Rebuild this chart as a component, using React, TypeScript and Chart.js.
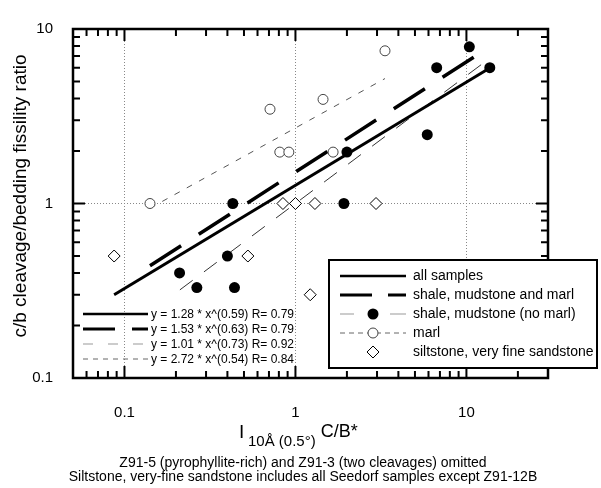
import React, { useEffect, useRef } from 'react';
import { Chart, registerables } from 'chart.js';

Chart.register(...registerables);

// ---- axis ticks ----
const xTickValues = [0.05, 0.06, 0.07, 0.08, 0.09, 0.1, 0.2, 0.3, 0.4, 0.5, 0.6, 0.7, 0.8, 0.9, 1, 2, 3, 4, 5, 6, 7, 8, 9, 10, 20, 30];
const yTickValues = [0.1, 0.2, 0.3, 0.4, 0.5, 0.6, 0.7, 0.8, 0.9, 1, 2, 3, 4, 5, 6, 7, 8, 9, 10];
const majorValues = [0.1, 1, 10];
const majorLabels = ['0.1', '1', '10'];

// ---- data: shale, mudstone (no marl) ----
const shaleX = [0.21, 0.265, 0.40, 0.44, 0.43, 1.92, 2.0, 5.9, 6.7, 10.4, 13.7];
const shaleY = [0.40, 0.33, 0.50, 0.33, 1.0, 1.0, 1.97, 2.48, 6.0, 7.9, 6.0];
// ---- marl ----
const marlX = [0.141, 0.71, 0.81, 0.915, 1.45, 1.66, 3.34];
const marlY = [1.0, 3.47, 1.97, 1.97, 3.95, 1.97, 7.5];
// ---- siltstone, very fine sandstone ----
const siltX = [0.087, 0.527, 0.845, 1.0, 1.3, 2.96, 1.22];
const siltY = [0.5, 0.5, 1.0, 1.0, 1.0, 1.0, 0.30];
// ---- fitted lines (end points) ----
const allFitX = [0.087, 13.7];
const allFitY = [0.30, 5.98];
const smmFitX = [0.141, 13.7];
const smmFitY = [0.44, 7.9];
const smFitX = [0.211, 13.7];
const smFitY = [0.32, 6.8];
const marlFitX = [0.141, 3.34];
const marlFitY = [0.94, 5.2];

// ---- texts ----
const legendLabels = ['all samples', 'shale, mudstone and marl', 'shale, mudstone (no marl)', 'marl', 'siltstone, very fine sandstone'];
const equationLabels = [
  'y = 1.28 * x^(0.59) R= 0.79',
  'y = 1.53 * x^(0.63) R= 0.79',
  'y = 1.01 * x^(0.73) R= 0.92',
  'y = 2.72 * x^(0.54) R= 0.84',
];
const yTitle = 'c/b cleavage/bedding fissility ratio';
const xTitleMain = 'I';
const xTitleSub = '10Å (0.5°)';
const xTitleRest = 'C/B*';
const footnotes = [
  'Z91-5 (pyrophyllite-rich) and Z91-3 (two cleavages) omitted',
  'Siltstone, very-fine sandstone includes all Seedorf samples except Z91-12B',
];

const FONT = '"Liberation Sans", Arial, Helvetica, sans-serif';

const zip = (xs: number[], ys: number[]) => xs.map((x, i) => ({ x, y: ys[i] }));
const isMajor = (v: number) => majorValues.some((m) => Math.abs(m - v) < 1e-9);
const labelFor = (v: number) => {
  const i = majorValues.findIndex((m) => Math.abs(m - v) < 1e-9);
  return i >= 0 ? majorLabels[i] : '';
};

const decorPlugin = {
  id: 'decor',
  afterDraw(chart: any) {
    const { ctx, chartArea } = chart;
    const { left, right, top, bottom } = chartArea;
    const xs = chart.scales.x;
    const ys = chart.scales.y;
    ctx.save();
    // inside tick marks
    ctx.strokeStyle = '#000';
    ctx.lineWidth = 2;
    xTickValues.forEach((v) => {
      const px = xs.getPixelForValue(v);
      const len = isMajor(v) ? 12 : 7;
      ctx.beginPath();
      ctx.moveTo(px, bottom);
      ctx.lineTo(px, bottom - len);
      ctx.moveTo(px, top);
      ctx.lineTo(px, top + len);
      ctx.stroke();
    });
    yTickValues.forEach((v) => {
      const py = ys.getPixelForValue(v);
      const len = isMajor(v) ? 12 : 7;
      ctx.beginPath();
      ctx.moveTo(left, py);
      ctx.lineTo(left + len, py);
      ctx.moveTo(right, py);
      ctx.lineTo(right - len, py);
      ctx.stroke();
    });
    // frame
    ctx.lineWidth = 2.5;
    ctx.strokeRect(left, top, right - left, bottom - top);

    // equation legend (bottom-left inside plot)
    const eqY = [314, 329, 344, 359];
    const eqStyles = [
      { w: 2.5, dash: [] as number[], color: '#000' },
      { w: 3, dash: [32, 17], color: '#000' },
      { w: 1, dash: [10, 15], color: '#999' },
      { w: 1, dash: [5, 5], color: '#666' },
    ];
    ctx.font = '12px ' + FONT;
    ctx.textBaseline = 'middle';
    ctx.textAlign = 'left';
    equationLabels.forEach((t, i) => {
      const s = eqStyles[i];
      ctx.beginPath();
      ctx.lineWidth = s.w;
      ctx.strokeStyle = s.color;
      ctx.setLineDash(s.dash);
      ctx.moveTo(83, eqY[i]);
      ctx.lineTo(148, eqY[i]);
      ctx.stroke();
      ctx.setLineDash([]);
      ctx.fillStyle = '#000';
      ctx.fillText(t, 151, eqY[i] + 0.5);
    });

    // right legend box
    ctx.fillStyle = '#fff';
    ctx.fillRect(329, 260, 268, 108);
    ctx.strokeStyle = '#000';
    ctx.lineWidth = 2;
    ctx.strokeRect(329, 260, 268, 108);
    const lgY = [276, 295, 314, 333, 352];
    // row 0 solid
    ctx.beginPath();
    ctx.lineWidth = 2.5;
    ctx.moveTo(340, lgY[0]);
    ctx.lineTo(406, lgY[0]);
    ctx.stroke();
    // row 1 long dash
    ctx.beginPath();
    ctx.lineWidth = 3;
    ctx.setLineDash([32, 16]);
    ctx.moveTo(340, lgY[1]);
    ctx.lineTo(406, lgY[1]);
    ctx.stroke();
    ctx.setLineDash([]);
    // row 2 thin gray + filled circle
    ctx.beginPath();
    ctx.lineWidth = 1;
    ctx.strokeStyle = '#999';
    ctx.moveTo(340, lgY[2]);
    ctx.lineTo(354, lgY[2]);
    ctx.moveTo(390, lgY[2]);
    ctx.lineTo(406, lgY[2]);
    ctx.stroke();
    ctx.beginPath();
    ctx.fillStyle = '#000';
    ctx.arc(373, lgY[2], 5.5, 0, Math.PI * 2);
    ctx.fill();
    // row 3 short dash + open circle
    ctx.beginPath();
    ctx.strokeStyle = '#666';
    ctx.setLineDash([5, 4]);
    ctx.moveTo(340, lgY[3]);
    ctx.lineTo(406, lgY[3]);
    ctx.stroke();
    ctx.setLineDash([]);
    ctx.beginPath();
    ctx.fillStyle = '#fff';
    ctx.strokeStyle = '#444';
    ctx.arc(373, lgY[3], 5, 0, Math.PI * 2);
    ctx.fill();
    ctx.stroke();
    // row 4 diamond
    ctx.beginPath();
    ctx.strokeStyle = '#000';
    ctx.moveTo(367, lgY[4]);
    ctx.lineTo(373, lgY[4] - 6);
    ctx.lineTo(379, lgY[4]);
    ctx.lineTo(373, lgY[4] + 6);
    ctx.closePath();
    ctx.fill();
    ctx.stroke();
    // legend texts
    ctx.fillStyle = '#000';
    ctx.font = '14px ' + FONT;
    legendLabels.forEach((t, i) => ctx.fillText(t, 413, lgY[i] + 0.5));

    // y axis title (rotated)
    ctx.save();
    ctx.translate(21, 196);
    ctx.rotate(-Math.PI / 2);
    ctx.textAlign = 'center';
    ctx.textBaseline = 'middle';
    ctx.font = '19px ' + FONT;
    ctx.fillText(yTitle, 0, 0);
    ctx.restore();

    // x axis title with subscript
    ctx.fillStyle = '#000';
    ctx.textAlign = 'left';
    ctx.textBaseline = 'alphabetic';
    ctx.font = '19px ' + FONT;
    ctx.fillText(xTitleMain, 239, 438);
    ctx.font = '15px ' + FONT;
    ctx.fillText(xTitleSub, 248, 446);
    const subW = ctx.measureText(xTitleSub).width;
    ctx.font = '18px ' + FONT;
    ctx.fillText(xTitleRest, 248 + subW + 5, 437);

    // footnotes
    ctx.font = '14px ' + FONT;
    ctx.textAlign = 'center';
    ctx.fillText(footnotes[0], 303, 467);
    ctx.fillText(footnotes[1], 303, 481);
    ctx.restore();
  },
};

export default function App() {
  const ref = useRef<HTMLCanvasElement>(null);
  useEffect(() => {
    if (!ref.current) return;
    const chart = new Chart(ref.current, {
      type: 'scatter',
      data: {
        datasets: [
          {
            label: legendLabels[2],
            data: zip(shaleX, shaleY),
            pointStyle: 'circle',
            pointRadius: 5.5,
            backgroundColor: '#000',
            borderColor: '#000',
            borderWidth: 0,
          },
          {
            label: legendLabels[3],
            data: zip(marlX, marlY),
            pointStyle: 'circle',
            pointRadius: 5,
            backgroundColor: '#fff',
            borderColor: '#444',
            borderWidth: 1,
          },
          {
            label: legendLabels[4],
            data: zip(siltX, siltY),
            pointStyle: 'rectRot',
            pointRadius: 6,
            backgroundColor: '#fff',
            borderColor: '#000',
            borderWidth: 1,
          },
          {
            type: 'line',
            label: legendLabels[0],
            data: zip(allFitX, allFitY),
            borderColor: '#000',
            borderWidth: 3,
            pointRadius: 0,
            fill: false,
          },
          {
            type: 'line',
            label: legendLabels[1],
            data: zip(smmFitX, smmFitY),
            borderColor: '#000',
            borderWidth: 3.5,
            borderDash: [37, 21],
            pointRadius: 0,
            fill: false,
          },
          {
            type: 'line',
            label: 'fit no marl',
            data: zip(smFitX, smFitY),
            borderColor: '#333',
            borderWidth: 1,
            borderDash: [16, 14],
            pointRadius: 0,
            fill: false,
          },
          {
            type: 'line',
            label: 'fit marl',
            data: zip(marlFitX, marlFitY),
            borderColor: '#555',
            borderWidth: 1,
            borderDash: [6, 8],
            pointRadius: 0,
            fill: false,
          },
        ] as any,
      },
      options: {
        animation: false,
        responsive: false,
        layout: { padding: { left: 0, top: 21, right: 53, bottom: 0 } },
        plugins: { legend: { display: false }, tooltip: { enabled: false } },
        scales: {
          x: {
            type: 'logarithmic',
            min: 0.05,
            max: 30,
            afterBuildTicks: (scale: any) => {
              scale.ticks = xTickValues.map((v) => ({ value: v, major: isMajor(v) }));
            },
            afterFit: (scale: any) => {
              scale.height = 110;
            },
            grid: {
              drawTicks: false,
              color: (c: any) => (c.tick && isMajor(c.tick.value) ? '#888' : 'rgba(0,0,0,0)'),
              lineWidth: 1,
            },
            border: { display: false, dash: [1, 2] },
            ticks: {
              autoSkip: false,
              maxRotation: 0,
              padding: 26,
              color: '#000',
              font: { family: FONT, size: 15 },
              callback: (v: any) => labelFor(Number(v)),
            },
          },
          y: {
            type: 'logarithmic',
            min: 0.1,
            max: 10,
            afterBuildTicks: (scale: any) => {
              scale.ticks = yTickValues.map((v) => ({ value: v, major: isMajor(v) }));
            },
            afterFit: (scale: any) => {
              scale.width = 73;
            },
            grid: {
              drawTicks: false,
              color: (c: any) => (c.tick && isMajor(c.tick.value) ? '#888' : 'rgba(0,0,0,0)'),
              lineWidth: 1,
            },
            border: { display: false, dash: [1, 2] },
            ticks: {
              autoSkip: false,
              padding: 20,
              color: '#000',
              font: { family: FONT, size: 15 },
              callback: (v: any) => labelFor(Number(v)),
            },
          },
        },
      },
      plugins: [decorPlugin],
    } as any);
    return () => chart.destroy();
  }, []);
  return (
    <div style={{ position: 'absolute', left: 0, top: 0, width: 601, height: 488, background: '#fff' }}>
      <canvas ref={ref} width={601} height={488} style={{ display: 'block' }} />
    </div>
  );
}
